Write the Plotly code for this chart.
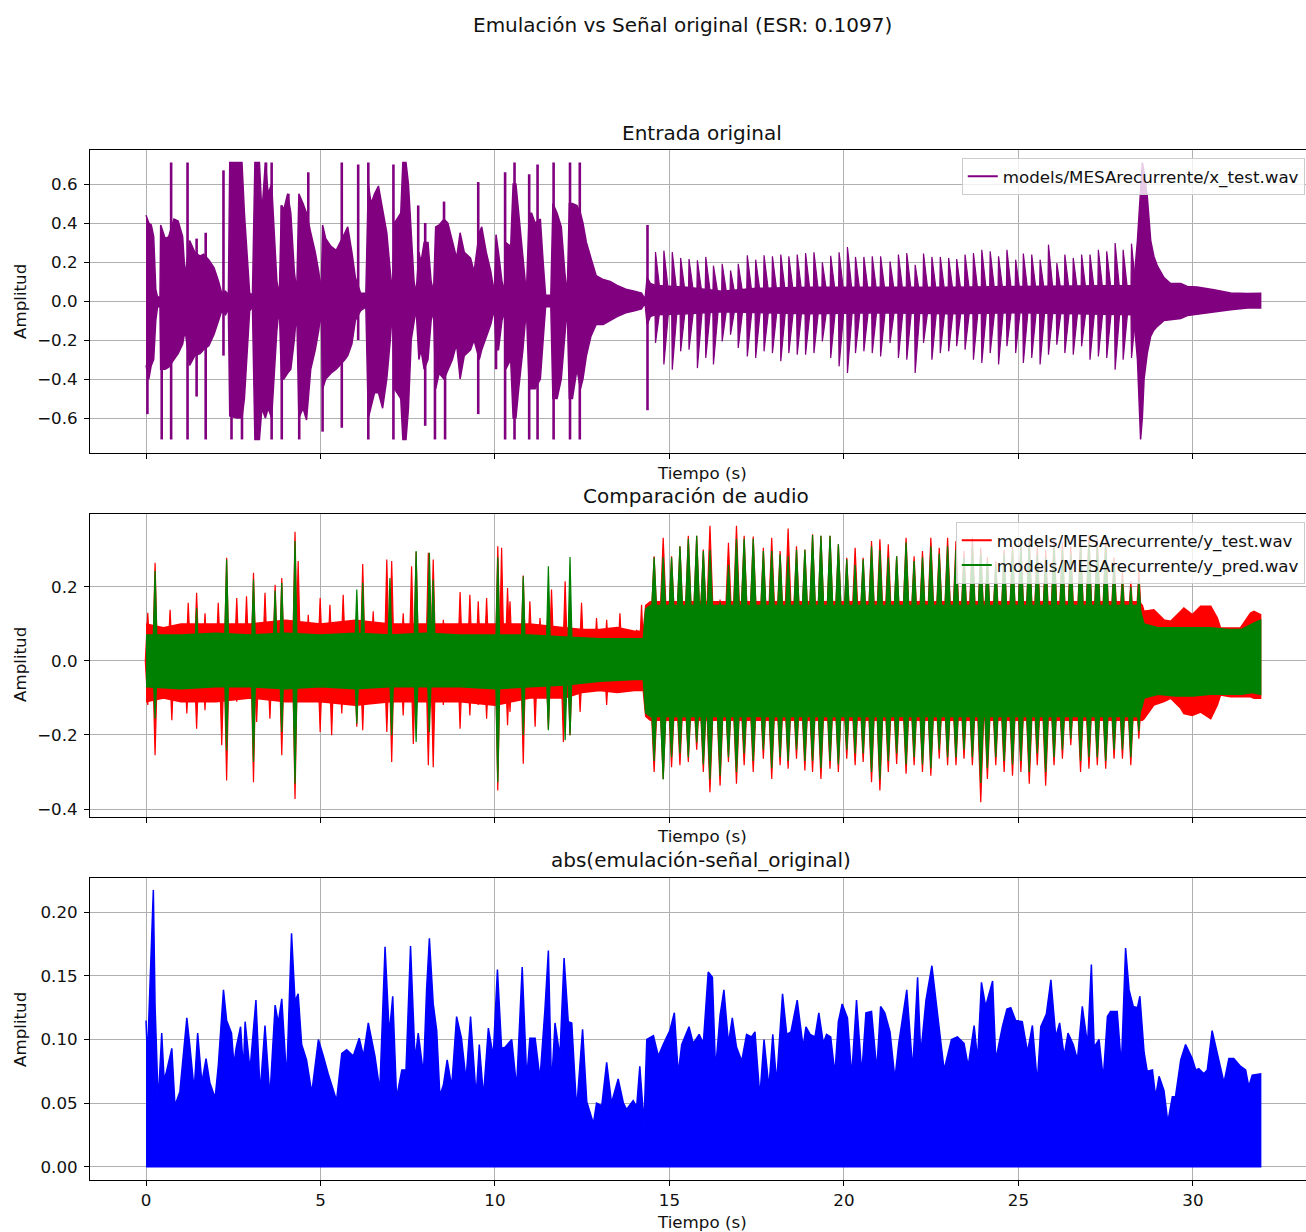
import plotly.graph_objects as go

# ---------------- Panel 1: x_test.wav (envelope keypoints: time, upper, lower) ----------------
x_env_t = [0.00, 0.08, 0.15, 0.22, 0.28, 0.33, 0.40, 0.42, 0.55, 0.65, 0.80, 0.92, 1.05, 1.12, 1.25, 1.40, 1.55,
           1.65, 1.80, 1.95, 2.08, 2.17, 2.28, 2.36, 2.40, 2.60, 2.75, 2.82, 2.90, 2.97, 3.05, 3.12, 3.25, 3.32,
           3.42, 3.50, 3.60, 3.68, 3.75, 3.82, 3.88, 3.95, 4.06, 4.15, 4.25, 4.32, 4.38, 4.50, 4.60, 4.72, 4.85,
           4.95, 5.02, 5.06, 5.15, 5.30, 5.45, 5.70, 5.78, 5.90, 6.00, 6.15, 6.30, 6.37, 6.45, 6.55, 6.66, 6.78,
           6.90, 7.00, 7.06, 7.12, 7.30, 7.36, 7.45, 7.52, 7.60, 7.68, 7.74, 7.82, 7.88, 7.97, 8.08, 8.17, 8.24,
           8.30, 8.40, 8.54, 8.65, 8.78, 8.90, 9.00, 9.12, 9.30, 9.40, 9.55, 9.62, 9.75, 9.88, 9.98, 10.03, 10.10,
           10.20, 10.27, 10.31, 10.45, 10.52, 10.60, 10.68, 10.80, 10.90, 10.98, 11.05, 11.15, 11.30, 11.38,
           11.45, 11.60, 11.66, 11.78, 11.90, 12.00, 12.07, 12.13, 12.22, 12.35, 12.45, 12.52, 12.62, 12.75,
           12.90, 13.10, 13.30, 13.50, 13.75, 14.00, 14.20, 14.30, 14.36, 14.45, 14.60, 15.50, 16.50, 17.50,
           19.00, 21.00, 23.00, 25.00, 27.00, 28.30, 28.41, 28.50, 28.55, 28.60, 28.69, 28.79, 28.88, 28.98,
           29.17, 29.36, 29.65, 29.84, 30.12, 30.60, 31.08, 31.56, 31.85, 31.94]
x_env_hi = [0.44, 0.40, 0.39, 0.33, 0.06, 0.02, 0.02, 0.39, 0.32, 0.33, 0.42, 0.41, 0.33, 0.13, 0.31, 0.25, 0.23,
            0.24, 0.21, 0.17, 0.10, 0.04, 0.05, 0.03, 0.71, 0.71, 0.71, 0.45, 0.20, 0.04, 0.03, 0.71, 0.71, 0.45,
            0.71, 0.55, 0.60, 0.30, 0.10, 0.03, 0.49, 0.47, 0.55, 0.45, 0.15, 0.05, 0.55, 0.50, 0.45, 0.35, 0.25,
            0.15, 0.05, 0.39, 0.32, 0.28, 0.26, 0.35, 0.38, 0.25, 0.12, 0.04, 0.04, 0.60, 0.50, 0.55, 0.59, 0.47,
            0.35, 0.15, 0.05, 0.40, 0.45, 0.71, 0.71, 0.60, 0.35, 0.10, 0.04, 0.25, 0.20, 0.30, 0.30, 0.10, 0.05,
            0.38, 0.39, 0.42, 0.40, 0.30, 0.22, 0.35, 0.25, 0.22, 0.15, 0.35, 0.38, 0.25, 0.15, 0.04, 0.34, 0.25,
            0.10, 0.05, 0.30, 0.28, 0.60, 0.60, 0.45, 0.25, 0.04, 0.45, 0.45, 0.40, 0.42, 0.20,
            0.03, 0.03, 0.50, 0.45, 0.38, 0.15, 0.03, 0.50, 0.50, 0.49, 0.45, 0.40, 0.30, 0.22,
            0.13, 0.11, 0.10, 0.08, 0.06, 0.05, 0.04, 0.01, 0.12, 0.09, 0.08, 0.07, 0.05, 0.065,
            0.07, 0.07, 0.07, 0.075, 0.08, 0.08, 0.31, 0.60, 0.71, 0.66, 0.54, 0.31, 0.23, 0.18,
            0.12, 0.09, 0.09, 0.075, 0.072, 0.058, 0.041, 0.038, 0.04, 0.04]
x_env_lo = [-0.33, -0.40, -0.33, -0.30, -0.10, -0.03, -0.03, -0.35, -0.35, -0.34, -0.30, -0.27, -0.22, -0.15,
            -0.33, -0.28, -0.27, -0.25, -0.23, -0.17, -0.10, -0.05, -0.07, -0.04, -0.59, -0.60, -0.60, -0.50,
            -0.25, -0.05, -0.03, -0.71, -0.71, -0.55, -0.60, -0.55, -0.60, -0.35, -0.15, -0.03, -0.40, -0.40,
            -0.37, -0.35, -0.20, -0.05, -0.60, -0.55, -0.61, -0.35, -0.25, -0.15, -0.05, -0.45, -0.40, -0.37,
            -0.35, -0.30, -0.28, -0.22, -0.10, -0.05, -0.03, -0.60, -0.55, -0.47, -0.47, -0.55, -0.40, -0.20,
            -0.05, -0.45, -0.50, -0.71, -0.71, -0.55, -0.20, -0.10, -0.04, -0.30, -0.25, -0.35, -0.30, -0.10,
            -0.05, -0.45, -0.37, -0.40, -0.35, -0.30, -0.22, -0.40, -0.28, -0.25, -0.20, -0.30, -0.25, -0.18,
            -0.12, -0.04, -0.25, -0.25, -0.10, -0.05, -0.35, -0.30, -0.60, -0.60, -0.45, -0.25, -0.04, -0.45,
            -0.45, -0.45, -0.40, -0.20, -0.03, -0.03, -0.50, -0.50, -0.40, -0.20, -0.03, -0.50, -0.50, -0.35,
            -0.45, -0.40, -0.28, -0.18, -0.12, -0.12, -0.10, -0.08, -0.06, -0.05, -0.04, -0.01, -0.12, -0.08,
            -0.07, -0.065, -0.055, -0.06, -0.065, -0.06, -0.065, -0.06, -0.065, -0.07, -0.30, -0.71, -0.60,
            -0.40, -0.27, -0.18, -0.15, -0.13, -0.10, -0.095, -0.09, -0.075, -0.07, -0.058, -0.045, -0.036,
            -0.036, -0.036]

# isolated transients of x_test.wav in the first half (time, upper, lower)
x_spk_t = [0.04, 0.45, 0.72, 1.19, 1.45, 1.71, 2.22, 2.45, 2.75, 3.44, 3.60, 3.89, 4.08, 4.39, 4.65, 5.06, 5.61,
           6.08, 6.37, 7.09, 7.80, 8.00, 8.28, 8.54, 8.57, 9.52, 10.03, 10.29, 10.56, 10.98, 11.22, 11.68, 12.15,
           12.43, 14.37]
x_spk_hi = [0.0, 0.0, 0.71, 0.71, 0.32, 0.35, 0.67, 0.0, 0.0, 0.71, 0.71, 0.49, 0.55, 0.0, 0.66, 0.0, 0.71,
            0.70, 0.71, 0.70, 0.49, 0.40, 0.0, 0.51, 0.0, 0.61, 0.0, 0.66, 0.71, 0.65, 0.70, 0.71, 0.71,
            0.71, 0.39]
x_spk_lo = [-0.58, -0.71, -0.71, -0.71, -0.49, -0.71, -0.28, -0.71, -0.71, 0.0, -0.71, -0.71, 0.0, -0.71, 0.0,
            -0.67, -0.65, -0.20, -0.71, -0.71, 0.0, -0.64, -0.71, 0.0, -0.71, -0.58, -0.35, -0.71, -0.71, -0.71,
            -0.71, -0.71, -0.71, -0.71, -0.56]
# regular note onsets of x_test.wav in the second half (time, upper, lower)
x_tick_t = [14.60, 14.84, 15.08, 15.32, 15.56, 15.80, 16.04, 16.26, 16.51, 16.75, 16.97, 17.23, 17.47, 17.71,
            17.95, 18.19, 18.42, 18.66, 18.90, 19.14, 19.38, 19.62, 19.86, 20.10, 20.33, 20.57, 20.81, 21.05,
            21.32, 21.56, 21.80, 22.04, 22.28, 22.52, 22.76, 23.00, 23.23, 23.47, 23.71, 23.95, 24.19, 24.43,
            24.67, 24.92, 25.14, 25.38, 25.62, 25.86, 26.10, 26.33, 26.57, 26.81, 27.05, 27.29, 27.53, 27.77,
            28.00, 28.24]
x_tick_hi = [0.251, 0.258, 0.251, 0.221, 0.215, 0.209, 0.226, 0.181, 0.191, 0.157, 0.191, 0.234, 0.212, 0.234,
             0.229, 0.238, 0.229, 0.238, 0.246, 0.250, 0.198, 0.232, 0.250, 0.277, 0.226, 0.226, 0.229, 0.229,
             0.203, 0.238, 0.246, 0.186, 0.243, 0.226, 0.226, 0.221, 0.215, 0.238, 0.246, 0.263, 0.255, 0.229,
             0.263, 0.212, 0.243, 0.238, 0.212, 0.289, 0.195, 0.238, 0.221, 0.238, 0.238, 0.263, 0.255, 0.297,
             0.263, 0.294]
x_tick_lo = [-0.215, -0.326, -0.352, -0.258, -0.250, -0.344, -0.292, -0.326, -0.207, -0.173, -0.241, -0.284,
             -0.292, -0.258, -0.267, -0.309, -0.267, -0.275, -0.275, -0.267, -0.207, -0.292, -0.335, -0.369,
             -0.267, -0.258, -0.267, -0.284, -0.215, -0.292, -0.301, -0.369, -0.215, -0.301, -0.267, -0.258,
             -0.232, -0.250, -0.301, -0.318, -0.267, -0.326, -0.232, -0.267, -0.318, -0.292, -0.326, -0.275,
             -0.224, -0.267, -0.275, -0.232, -0.301, -0.284, -0.292, -0.352, -0.301, -0.292]

# ---------------- Panel 2: y_test.wav (red) ----------------
yt_env_t = [0.0, 0.5, 1.0, 2.0, 3.0, 4.0, 5.0, 6.0, 7.0, 8.0, 9.0, 10.0, 11.0, 12.0, 12.5, 13.0, 13.5, 14.0,
            14.25, 14.32, 14.45, 28.45, 28.55, 28.60, 28.88, 29.17, 29.36, 29.65, 29.74, 29.98, 30.22, 30.51,
            30.70, 30.79, 31.08, 31.36, 31.65, 31.75, 31.94]
yt_env_hi = [0.10, 0.09, 0.10, 0.10, 0.10, 0.11, 0.10, 0.11, 0.10, 0.10, 0.10, 0.10, 0.10, 0.09, 0.085, 0.085,
             0.09, 0.08, 0.08, 0.15, 0.16, 0.16, 0.15, 0.134, 0.138, 0.111, 0.107, 0.134, 0.143, 0.125, 0.148,
             0.148, 0.116, 0.089, 0.089, 0.089, 0.129, 0.134, 0.125]
yt_env_lo = [-0.11, -0.10, -0.11, -0.11, -0.10, -0.11, -0.11, -0.12, -0.11, -0.11, -0.11, -0.12, -0.10, -0.10,
             -0.085, -0.08, -0.085, -0.08, -0.08, -0.15, -0.16, -0.16, -0.16, -0.156, -0.119, -0.110, -0.101,
             -0.128, -0.142, -0.147, -0.138, -0.156, -0.119, -0.092, -0.097, -0.097, -0.097, -0.101, -0.101]
# transients of y_test.wav in the first half (time, upper, lower)
yt_spk_t = [0.05, 0.26, 0.69, 0.74, 1.17, 1.21, 1.45, 1.69, 2.07, 2.17, 2.31, 2.60, 2.88, 3.08, 3.17, 3.41, 3.55,
            3.70, 3.89, 4.27, 4.36, 4.65, 4.99, 5.27, 5.32, 5.61, 5.65, 6.04, 6.21, 6.51, 6.90, 7.04, 7.37, 7.61,
            7.66, 7.74, 8.09, 8.23, 8.52, 9.00, 9.28, 9.52, 9.76, 10.08, 10.19, 10.36, 10.43, 10.81, 11.00,
            11.15, 11.29, 11.53, 11.62, 11.96, 12.01, 12.15, 12.44, 12.48, 12.91, 13.20, 13.58, 14.06, 14.20]
yt_spk_hi = [0.13, 0.265, 0.138, 0.0, 0.0, 0.157, 0.184, 0.129, 0.157, 0.0, 0.279, 0.170, 0.175, 0.238, 0.0,
             0.184, 0.0, 0.206, 0.224, 0.349, 0.27, 0.125, 0.170, 0.152, 0.0, 0.0, 0.179, 0.0, 0.262, 0.134,
             0.274, 0.270, 0.129, 0.256, 0.0, 0.294, 0.292, 0.274, 0.111, 0.186, 0.179, 0.161, 0.170, 0.310,
             0.306, 0.197, 0.161, 0.231, 0.161, 0.0, 0.116, 0.0, 0.193, 0.0, 0.215, 0.0, 0.0, 0.157, 0.116,
             0.111, 0.129, 0.084, 0.152]
yt_spk_lo = [-0.119, -0.255, 0.0, -0.160, -0.142, 0.0, -0.183, -0.133, 0.0, -0.228, -0.323, -0.110, 0.0, -0.328,
             -0.165, 0.0, -0.156, 0.0, -0.255, -0.373, 0.0, 0.0, -0.192, 0.0, -0.201, -0.142, 0.0, -0.178,
             -0.187, 0.0, -0.192, -0.273, -0.147, 0.0, -0.224, 0.0, -0.282, -0.287, -0.119, -0.183, -0.147,
             -0.119, -0.156, -0.350, 0.0, -0.174, -0.138, -0.278, 0.0, -0.178, 0.0, -0.183, 0.0, -0.219, 0.0,
             -0.201, -0.138, 0.0, 0.0, -0.119, 0.0, 0.0, 0.0]
# beats of the loud section (shared times for y_test / y_pred)
beat_t = [14.56, 14.82, 15.06, 15.30, 15.54, 15.78, 15.97, 16.16, 16.45, 16.69, 16.92, 17.14, 17.40, 17.69,
          17.93, 18.17, 18.40, 18.64, 18.88, 19.10, 19.34, 19.60, 19.84, 20.08, 20.32, 20.55, 20.79, 21.03,
          21.27, 21.51, 21.78, 22.01, 22.25, 22.49, 22.73, 22.97, 23.21, 23.44, 23.68, 23.92, 24.11, 24.35,
          24.59, 24.83, 25.07, 25.31, 25.54, 25.78, 26.02, 26.26, 26.50, 26.78, 27.02, 27.26, 27.50, 27.74,
          27.98, 28.22, 28.45]
yt_beat_hi = [0.283, 0.333, 0.283, 0.310, 0.338, 0.338, 0.301, 0.365, 0.166, 0.319, 0.365, 0.338, 0.336, 0.306,
              0.333, 0.297, 0.358, 0.310, 0.301, 0.342, 0.338, 0.338, 0.315, 0.279, 0.306, 0.279, 0.324, 0.329,
              0.315, 0.283, 0.333, 0.283, 0.297, 0.333, 0.306, 0.333, 0.324, 0.297, 0.333, 0.306, 0.28, 0.27,
              0.30, 0.31, 0.32, 0.33, 0.31, 0.30, 0.33, 0.32, 0.31, 0.33, 0.34, 0.33, 0.33, 0.28, 0.24, 0.215,
              0.243]
yt_beat_lo = [-0.300, -0.319, -0.287, -0.282, -0.273, -0.24, -0.300, -0.355, -0.337, -0.273, -0.332, -0.282,
              -0.300, -0.264, -0.319, -0.282, -0.291, -0.264, -0.296, -0.300, -0.319, -0.291, -0.300, -0.264,
              -0.282, -0.273, -0.328, -0.350, -0.300, -0.278, -0.305, -0.282, -0.300, -0.310, -0.264, -0.282,
              -0.282, -0.264, -0.282, -0.382, -0.319, -0.282, -0.300, -0.310, -0.300, -0.332, -0.282, -0.337,
              -0.282, -0.264, -0.228, -0.300, -0.291, -0.282, -0.291, -0.264, -0.264, -0.282, -0.210]

# ---------------- Panel 2: y_pred.wav (green) ----------------
yp_env_t = [0.0, 1.0, 2.0, 3.0, 4.0, 5.0, 6.0, 7.0, 8.0, 9.0, 10.0, 11.0, 12.0, 13.0, 14.0, 14.25, 14.32, 14.45,
            28.45, 28.55, 28.60, 29.0, 29.5, 30.0, 30.5, 31.0, 31.4, 31.7, 31.94]
yp_env_hi = [0.07, 0.07, 0.075, 0.07, 0.075, 0.07, 0.075, 0.07, 0.075, 0.07, 0.07, 0.07, 0.065, 0.06, 0.06,
             0.06, 0.14, 0.15, 0.15, 0.12, 0.10, 0.09, 0.09, 0.09, 0.09, 0.085, 0.085, 0.10, 0.11]
yp_env_lo = [-0.07, -0.075, -0.07, -0.07, -0.075, -0.07, -0.075, -0.07, -0.07, -0.07, -0.075, -0.07, -0.065,
             -0.055, -0.05, -0.05, -0.14, -0.15, -0.15, -0.12, -0.10, -0.09, -0.095, -0.095, -0.09, -0.09,
             -0.09, -0.085, -0.09]
yp_spk_t = [0.26, 1.45, 2.31, 3.08, 3.70, 3.89, 4.27, 6.04, 6.21, 6.99, 7.04, 7.74, 8.12, 8.23, 10.08, 10.81,
            11.53, 12.01, 12.15]
yp_spk_hi = [0.243, 0.143, 0.274, 0.220, 0.19, 0.211, 0.324, 0.193, 0.211, 0.224, 0.0, 0.297, 0.292, 0.22,
             0.28, 0.229, 0.256, 0.0, 0.281]
yp_spk_lo = [-0.156, 0.0, -0.242, -0.273, 0.0, -0.192, -0.332, -0.169, 0.0, 0.0, -0.201, -0.219, -0.192, 0.0,
             -0.328, -0.201, -0.187, -0.214, -0.201]
yp_beat_hi = [0.28, 0.28, 0.28, 0.31, 0.33, 0.338, 0.297, 0.30, 0.16, 0.26, 0.33, 0.33, 0.33, 0.297, 0.297,
              0.288, 0.283, 0.30, 0.30, 0.34, 0.338, 0.338, 0.315, 0.275, 0.26, 0.275, 0.31, 0.30, 0.28, 0.283,
              0.32, 0.27, 0.28, 0.31, 0.29, 0.31, 0.30, 0.28, 0.31, 0.29, 0.27, 0.26, 0.29, 0.30, 0.31, 0.32,
              0.29, 0.28, 0.31, 0.30, 0.29, 0.31, 0.32, 0.31, 0.31, 0.26, 0.22, 0.20, 0.22]
yp_beat_lo = [-0.27, -0.32, -0.26, -0.25, -0.26, -0.22, -0.28, -0.32, -0.31, -0.26, -0.30, -0.25, -0.27, -0.24,
              -0.29, -0.26, -0.27, -0.24, -0.27, -0.27, -0.29, -0.27, -0.28, -0.24, -0.25, -0.25, -0.30, -0.32,
              -0.27, -0.25, -0.28, -0.26, -0.28, -0.29, -0.24, -0.26, -0.26, -0.24, -0.26, -0.33, -0.29, -0.26,
              -0.27, -0.28, -0.27, -0.30, -0.25, -0.30, -0.26, -0.24, -0.21, -0.27, -0.26, -0.26, -0.27, -0.24,
              -0.24, -0.26, -0.19]

# ---------------- Panel 3: abs(error) upper envelope ----------------
err_t = [0.00, 0.04, 0.21, 0.26, 0.35, 0.45, 0.52, 0.59, 0.74, 0.83, 0.97, 1.17, 1.26, 1.38, 1.48, 1.60, 1.72,
         1.83, 1.98, 2.07, 2.22, 2.31, 2.45, 2.52, 2.58, 2.71, 2.79, 2.84, 2.98, 3.15, 3.27, 3.41, 3.55, 3.70,
         3.79, 3.89, 4.03, 4.17, 4.27, 4.36, 4.46, 4.60, 4.75, 4.94, 5.08, 5.22, 5.46, 5.61, 5.75, 5.94, 6.11,
         6.23, 6.37, 6.56, 6.70, 6.85, 6.97, 7.07, 7.18, 7.33, 7.45, 7.58, 7.71, 7.80, 7.95, 8.04, 8.12, 8.23,
         8.33, 8.42, 8.52, 8.63, 8.76, 8.90, 9.04, 9.17, 9.30, 9.46, 9.55, 9.67, 9.81, 9.95, 10.07, 10.19,
         10.29, 10.48, 10.62, 10.78, 10.91, 11.00, 11.15, 11.29, 11.43, 11.53, 11.62, 11.72, 11.86, 11.98,
         12.10, 12.20, 12.34, 12.51, 12.63, 12.82, 12.91, 13.06, 13.20, 13.34, 13.53, 13.68, 13.77, 13.96,
         14.06, 14.15, 14.27, 14.35, 14.54, 14.68, 14.82, 15.01, 15.14, 15.25, 15.35, 15.56, 15.68, 15.85,
         15.97, 16.11, 16.23, 16.32, 16.45, 16.56, 16.69, 16.80, 16.92, 17.07, 17.21, 17.35, 17.45, 17.59,
         17.71, 17.85, 17.96, 18.07, 18.24, 18.36, 18.48, 18.66, 18.83, 18.91, 19.03, 19.17, 19.28, 19.41,
         19.50, 19.62, 19.74, 19.84, 19.95, 20.10, 20.22, 20.36, 20.51, 20.63, 20.79, 20.94, 21.05, 21.17,
         21.32, 21.46, 21.57, 21.80, 21.97, 22.11, 22.20, 22.35, 22.52, 22.63, 22.76, 22.87, 23.08, 23.25,
         23.44, 23.56, 23.73, 23.83, 23.94, 24.06, 24.26, 24.35, 24.54, 24.67, 24.78, 24.92, 25.11, 25.26,
         25.40, 25.54, 25.64, 25.80, 25.93, 26.07, 26.18, 26.31, 26.42, 26.57, 26.69, 26.83, 26.98, 27.09,
         27.17, 27.31, 27.43, 27.55, 27.64, 27.83, 27.95, 28.07, 28.17, 28.29, 28.41, 28.48, 28.60, 28.69,
         28.84, 28.93, 29.03, 29.17, 29.28, 29.41, 29.50, 29.65, 29.79, 29.98, 30.08, 30.17, 30.31, 30.41,
         30.55, 30.70, 30.84, 30.89, 31.03, 31.17, 31.36, 31.51, 31.60, 31.70, 31.94]
err_v = [0.115, 0.085, 0.2176, 0.126, 0.050, 0.105, 0.068, 0.075, 0.093, 0.048, 0.059, 0.117, 0.094, 0.060,
         0.105, 0.066, 0.085, 0.066, 0.054, 0.079, 0.139, 0.115, 0.105, 0.080, 0.093, 0.110, 0.076, 0.114,
         0.076, 0.131, 0.058, 0.111, 0.055, 0.127, 0.113, 0.132, 0.069, 0.1835, 0.130, 0.136, 0.096, 0.084,
         0.058, 0.100, 0.087, 0.073, 0.052, 0.089, 0.092, 0.087, 0.101, 0.087, 0.113, 0.087, 0.060, 0.173,
         0.104, 0.134, 0.054, 0.076, 0.076, 0.1735, 0.084, 0.105, 0.073, 0.139, 0.1795, 0.128, 0.107, 0.056,
         0.064, 0.084, 0.063, 0.118, 0.101, 0.068, 0.118, 0.055, 0.096, 0.055, 0.109, 0.087, 0.155, 0.093,
         0.094, 0.100, 0.062, 0.157, 0.069, 0.101, 0.101, 0.069, 0.123, 0.170, 0.063, 0.113, 0.087, 0.164,
         0.114, 0.113, 0.045, 0.108, 0.051, 0.034, 0.050, 0.048, 0.082, 0.050, 0.069, 0.050, 0.045, 0.052,
         0.047, 0.079, 0.034, 0.100, 0.103, 0.087, 0.096, 0.107, 0.121, 0.073, 0.096, 0.110, 0.097, 0.104,
         0.097, 0.153, 0.149, 0.076, 0.119, 0.139, 0.097, 0.117, 0.094, 0.083, 0.104, 0.102, 0.106, 0.055,
         0.100, 0.062, 0.104, 0.066, 0.136, 0.104, 0.106, 0.131, 0.094, 0.110, 0.104, 0.102, 0.121, 0.097,
         0.104, 0.102, 0.073, 0.114, 0.128, 0.117, 0.071, 0.131, 0.073, 0.121, 0.122, 0.076, 0.126, 0.121,
         0.106, 0.069, 0.097, 0.139, 0.076, 0.149, 0.088, 0.131, 0.158, 0.131, 0.104, 0.076, 0.100, 0.102,
         0.097, 0.079, 0.111, 0.084, 0.145, 0.126, 0.146, 0.084, 0.110, 0.124, 0.125, 0.115, 0.114, 0.090,
         0.111, 0.066, 0.110, 0.120, 0.147, 0.102, 0.113, 0.087, 0.105, 0.096, 0.084, 0.126, 0.096, 0.159,
         0.094, 0.100, 0.069, 0.118, 0.122, 0.122, 0.079, 0.172, 0.139, 0.126, 0.125, 0.134, 0.090, 0.075,
         0.076, 0.055, 0.071, 0.060, 0.035, 0.055, 0.055, 0.084, 0.096, 0.085, 0.076, 0.077, 0.073, 0.076,
         0.107, 0.090, 0.072, 0.066, 0.085, 0.085, 0.079, 0.076, 0.063, 0.072, 0.073]

x_ticks = [0, 5, 10, 15, 20, 25, 30]
y1_ticks = [-0.6, -0.4, -0.2, 0.0, 0.2, 0.4, 0.6]
y2_ticks = [-0.4, -0.2, 0.0, 0.2]
y3_ticks = [0.00, 0.05, 0.10, 0.15, 0.20]

FONT = "DejaVu Sans"
FS = 16.7      # 10 pt text
FT = 20.0      # 12 pt titles


def fmt(v, nd):
    return f"{v:.{nd}f}".replace("-", "\u2212")


def env_trace(t, hi, lo, color, xa, ya):
    return go.Scatter(x=list(t) + list(t)[::-1], y=list(hi) + list(lo)[::-1], mode="lines",
                      fill="toself", fillcolor=color, line=dict(color=color, width=1.5),
                      showlegend=False, hoverinfo="skip", xaxis=xa, yaxis=ya)


def spike_trace(t, hi, lo, color, xa, ya, w=2.6):
    xs, ys = [], []
    for ti, h, l in zip(t, hi, lo):
        xs += [ti, ti, None]
        ys += [l, h, None]
    return go.Scatter(x=xs, y=ys, mode="lines", line=dict(color=color, width=w),
                      showlegend=False, hoverinfo="skip", xaxis=xa, yaxis=ya)


def wedge_trace(t, hi, lo, color, xa, ya, left, right):
    # each value is drawn as a narrow wedge whose tip is the value and whose base sits on zero
    xs, ys = [], []
    for ti, h, l in zip(t, hi, lo):
        for v in (h, l):
            if v != 0:
                xs += [ti - left, ti, ti + right, ti - left, None]
                ys += [0, v, 0, 0, None]
    return go.Scatter(x=xs, y=ys, mode="lines", fill="toself", fillcolor=color,
                      line=dict(color=color, width=1.2), showlegend=False, hoverinfo="skip",
                      xaxis=xa, yaxis=ya)


def legend_proxy(name, color, xa, ya, leg):
    return go.Scatter(x=[None], y=[None], mode="lines", line=dict(color=color, width=2), name=name,
                      xaxis=xa, yaxis=ya, legend=leg, showlegend=True)


fig = go.Figure()
# panel 1
fig.add_trace(env_trace(x_env_t, x_env_hi, x_env_lo, "purple", "x", "y"))
fig.add_trace(spike_trace(x_spk_t, x_spk_hi, x_spk_lo, "purple", "x", "y"))
fig.add_trace(wedge_trace(x_tick_t, x_tick_hi, x_tick_lo, "purple", "x", "y", 0.02, 0.16))
fig.add_trace(legend_proxy("models/MESArecurrente/x_test.wav", "purple", "x", "y", "legend"))
# panel 2
fig.add_trace(env_trace(yt_env_t, yt_env_hi, yt_env_lo, "red", "x2", "y2"))
fig.add_trace(wedge_trace(yt_spk_t, yt_spk_hi, yt_spk_lo, "red", "x2", "y2", 0.07, 0.07))
fig.add_trace(wedge_trace(beat_t, yt_beat_hi, yt_beat_lo, "red", "x2", "y2", 0.14, 0.14))
fig.add_trace(env_trace(yp_env_t, yp_env_hi, yp_env_lo, "green", "x2", "y2"))
fig.add_trace(wedge_trace(yp_spk_t, yp_spk_hi, yp_spk_lo, "green", "x2", "y2", 0.07, 0.07))
fig.add_trace(wedge_trace(beat_t, yp_beat_hi, yp_beat_lo, "green", "x2", "y2", 0.14, 0.14))
fig.add_trace(legend_proxy("models/MESArecurrente/y_test.wav", "red", "x2", "y2", "legend2"))
fig.add_trace(legend_proxy("models/MESArecurrente/y_pred.wav", "green", "x2", "y2", "legend2"))
# panel 3
fig.add_trace(env_trace(err_t, err_v, [0.0] * len(err_v), "blue", "x3", "y3"))

W, H = 1306, 1232
ML, MR, MT, MB = 90, 0, 150, 52
PW, PH = W - ML - MR, H - MT - MB


def py(pix):
    return 1 - (pix - MT) / PH


def px(pix):
    return (pix - ML) / PW


axis_common = dict(showgrid=True, gridcolor="#b0b0b0", gridwidth=0.8, zeroline=False, showline=True,
                   linecolor="black", linewidth=1, mirror=True, ticks="outside", ticklen=5, tickwidth=1,
                   tickcolor="black", tickfont=dict(family=FONT, size=FS, color="#111111"))

xr = [-1.605, 33.24]
leg_common = dict(x=0.999, xanchor="right", yanchor="top", bgcolor="rgba(255,255,255,0.8)",
                  bordercolor="#cccccc", borderwidth=1, tracegroupgap=0,
                  font=dict(family=FONT, size=FS, color="#111111"))
fig.update_layout(
    width=W, height=H, margin=dict(l=ML, r=MR, t=MT, b=MB),
    paper_bgcolor="white", plot_bgcolor="white",
    font=dict(family=FONT, size=FS, color="black"),
    xaxis=dict(domain=[0, 1], anchor="y", range=xr, tickvals=x_ticks, showticklabels=False, **axis_common),
    xaxis2=dict(domain=[0, 1], anchor="y2", range=xr, tickvals=x_ticks, showticklabels=False, **axis_common),
    xaxis3=dict(domain=[0, 1], anchor="y3", range=xr, tickvals=x_ticks, ticklabelstandoff=0,
                ticktext=[str(v) for v in x_ticks], **axis_common),
    yaxis=dict(domain=[py(453), py(150)], anchor="x", range=[-0.7795, 0.7744], tickvals=y1_ticks,
               ticklabelstandoff=3, ticktext=[fmt(v, 1) for v in y1_ticks], **axis_common),
    yaxis2=dict(domain=[py(817), py(514)], anchor="x2", range=[-0.4216, 0.397], tickvals=y2_ticks,
                ticklabelstandoff=3, ticktext=[fmt(v, 1) for v in y2_ticks], **axis_common),
    yaxis3=dict(domain=[py(1180), py(878)], anchor="x3", range=[-0.0105, 0.227], tickvals=y3_ticks,
                ticklabelstandoff=3, ticktext=[fmt(v, 2) for v in y3_ticks], **axis_common),
    legend=dict(y=py(158), **leg_common),
    legend2=dict(y=py(522), **leg_common),
    showlegend=True,
)

texts = [
    ("Emulación vs Señal original (ESR: 0.1097)", 682, 25, FT, 0),
    ("Entrada original", 702, 133, FT, 0),
    ("Comparación de audio", 696, 496, FT, 0),
    ("abs(emulación-señal_original)", 701, 860, FT, 0),
    ("Tiempo (s)", 702, 473, FS, 0),
    ("Tiempo (s)", 702, 836, FS, 0),
    ("Tiempo (s)", 702, 1222, FS, 0),
    ("Amplitud", 20, 302, FS, -90),
    ("Amplitud", 20, 665, FS, -90),
    ("Amplitud", 20, 1030, FS, -90),
]
for txt, x, y, size, ang in texts:
    fig.add_annotation(text=txt, x=px(x), y=py(y), xref="paper", yref="paper", showarrow=False,
                       xanchor="center", yanchor="middle", textangle=ang,
                       font=dict(family=FONT, size=size, color="#111111"))

fig.write_html("out.html", config={"displayModeBar": False},
               post_script="document.body.style.margin='0';")
